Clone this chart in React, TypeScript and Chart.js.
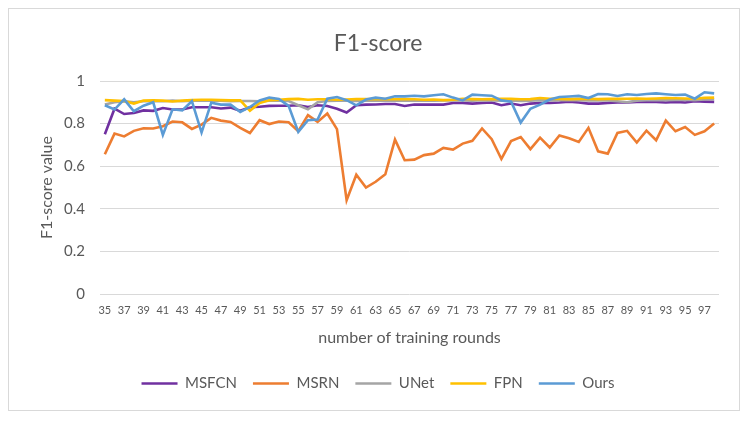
import React, { useEffect, useRef } from "react";
import { Chart, registerables } from "chart.js";

Chart.register(...registerables);

const rounds: string[] = [];
for (let r = 35; r <= 98; r++) rounds.push(String(r));

const yTickLabels = ["0", "0.2", "0.4", "0.6", "0.8", "1"];

const msfcn = [0.75, 0.87, 0.845, 0.85, 0.862, 0.86, 0.873, 0.866, 0.866, 0.877, 0.877, 0.877, 0.871, 0.875, 0.86, 0.877, 0.879, 0.883, 0.884, 0.884, 0.886, 0.878, 0.886, 0.883, 0.87, 0.852, 0.886, 0.889, 0.89, 0.892, 0.892, 0.883, 0.89, 0.889, 0.889, 0.889, 0.897, 0.897, 0.894, 0.897, 0.899, 0.886, 0.894, 0.886, 0.894, 0.897, 0.897, 0.899, 0.903, 0.899, 0.894, 0.894, 0.897, 0.899, 0.899, 0.902, 0.902, 0.902, 0.899, 0.902, 0.899, 0.905, 0.903, 0.902];
const msrn = [0.656, 0.753, 0.74, 0.766, 0.778, 0.777, 0.788, 0.81, 0.806, 0.775, 0.795, 0.827, 0.814, 0.808, 0.78, 0.756, 0.816, 0.798, 0.81, 0.806, 0.764, 0.84, 0.808, 0.847, 0.774, 0.44, 0.56, 0.5, 0.527, 0.562, 0.725, 0.628, 0.631, 0.652, 0.659, 0.686, 0.678, 0.706, 0.719, 0.777, 0.727, 0.634, 0.718, 0.737, 0.68, 0.734, 0.688, 0.744, 0.731, 0.714, 0.78, 0.67, 0.659, 0.756, 0.766, 0.711, 0.767, 0.722, 0.814, 0.764, 0.784, 0.747, 0.764, 0.8];
const unet = [0.89, 0.9, 0.905, 0.9, 0.905, 0.905, 0.905, 0.908, 0.905, 0.907, 0.908, 0.907, 0.908, 0.905, 0.906, 0.906, 0.905, 0.908, 0.908, 0.906, 0.886, 0.867, 0.9, 0.906, 0.908, 0.907, 0.906, 0.908, 0.909, 0.908, 0.909, 0.907, 0.908, 0.909, 0.908, 0.909, 0.91, 0.909, 0.908, 0.91, 0.909, 0.908, 0.909, 0.906, 0.908, 0.91, 0.909, 0.91, 0.911, 0.91, 0.909, 0.91, 0.909, 0.905, 0.9, 0.908, 0.91, 0.911, 0.91, 0.911, 0.912, 0.91, 0.913, 0.914];
const fpn = [0.91, 0.908, 0.906, 0.894, 0.908, 0.909, 0.908, 0.904, 0.908, 0.91, 0.912, 0.912, 0.91, 0.909, 0.909, 0.86, 0.897, 0.91, 0.912, 0.915, 0.916, 0.912, 0.914, 0.914, 0.912, 0.913, 0.915, 0.915, 0.914, 0.915, 0.914, 0.915, 0.914, 0.912, 0.913, 0.91, 0.912, 0.917, 0.915, 0.914, 0.915, 0.916, 0.916, 0.914, 0.915, 0.92, 0.917, 0.916, 0.915, 0.916, 0.917, 0.915, 0.916, 0.916, 0.917, 0.918, 0.917, 0.918, 0.92, 0.919, 0.918, 0.917, 0.921, 0.922];
const ours = [0.886, 0.866, 0.914, 0.858, 0.884, 0.9, 0.747, 0.867, 0.862, 0.905, 0.758, 0.898, 0.889, 0.889, 0.855, 0.878, 0.909, 0.922, 0.916, 0.883, 0.761, 0.816, 0.819, 0.917, 0.925, 0.91, 0.886, 0.913, 0.922, 0.917, 0.928, 0.928, 0.931, 0.928, 0.933, 0.938, 0.922, 0.909, 0.936, 0.933, 0.931, 0.909, 0.903, 0.805, 0.87, 0.889, 0.913, 0.925, 0.927, 0.93, 0.92, 0.939, 0.938, 0.93, 0.938, 0.934, 0.939, 0.942, 0.938, 0.934, 0.936, 0.917, 0.947, 0.942];

const seriesNames = ["MSFCN", "MSRN", "UNet", "FPN", "Ours"];
const seriesColors = ["#7030A0", "#ED7D31", "#A5A5A5", "#FFC000", "#5B9BD5"];
const seriesData = [msfcn, msrn, unet, fpn, ours];

const FONT = "Lato, 'Open Sans', sans-serif";
const TEXT = "#595959";

export default function App() {
  const ref = useRef<HTMLCanvasElement | null>(null);
  useEffect(() => {
    if (!ref.current) return;
    const chart = new Chart(ref.current, {
      type: "line",
      data: {
        labels: rounds,
        datasets: seriesNames.map((name, i) => ({
          label: name,
          data: seriesData[i],
          borderColor: seriesColors[i],
          backgroundColor: seriesColors[i],
          borderWidth: 2.6,
          pointRadius: 0,
          tension: 0,
          order: seriesNames.length - i,
        })),
      },
      options: {
        animation: false,
        responsive: false,
        maintainAspectRatio: false,
        layout: { padding: { left: 28, right: 20, top: 0, bottom: 9 } },
        plugins: {
          tooltip: { enabled: false },
          title: {
            display: true,
            text: "F1-score",
            color: TEXT,
            font: { family: FONT, size: 23, weight: "normal" },
            padding: { top: 21, bottom: 23.4 },
          },
          legend: {
            position: "bottom",
            labels: {
              usePointStyle: true,
              pointStyle: "line",
              pointStyleWidth: 36,
              boxHeight: 12,
              color: TEXT,
              padding: 16,
              font: { family: FONT, size: 15 },
              sort: (a: any, b: any) => a.datasetIndex - b.datasetIndex,
            },
          },
        },
        scales: {
          x: {
            offset: true,
            grid: { display: false, drawTicks: false },
            border: { display: false },
            ticks: {
              autoSkip: false,
              maxRotation: 0,
              minRotation: 0,
              padding: 10,
              color: TEXT,
              font: { family: FONT, size: 11 },
              callback: (_v: any, idx: number) => (idx % 2 === 0 ? rounds[idx] : ""),
            },
            title: {
              display: true,
              text: "number of training rounds",
              color: TEXT,
              font: { family: FONT, size: 16 },
              padding: { top: 4, bottom: 13 },
            },
            afterFit: (axis: any) => {
              axis.height = 66;
            },
          },
          y: {
            min: 0,
            max: 1,
            grid: { color: "#d9d9d9", lineWidth: 1, drawTicks: false },
            border: { display: false },
            ticks: {
              stepSize: 0.2,
              padding: 15,
              color: TEXT,
              font: { family: FONT, size: 15 },
              callback: (_v: any, idx: number) => yTickLabels[idx],
            },
            title: {
              display: true,
              text: "F1-score value",
              color: TEXT,
              font: { family: FONT, size: 16 },
              padding: { top: 0, bottom: 0 },
            },
            afterFit: (axis: any) => {
              axis.width = 63;
            },
          },
        },
      },
    });
    return () => chart.destroy();
  }, []);
  return (
    <div style={{ width: 730, height: 401, border: "1px solid #d9d9d9", background: "#fff" }}>
      <canvas ref={ref} width={730} height={401} style={{ display: "block", width: 730, height: 401 }} />
    </div>
  );
}
